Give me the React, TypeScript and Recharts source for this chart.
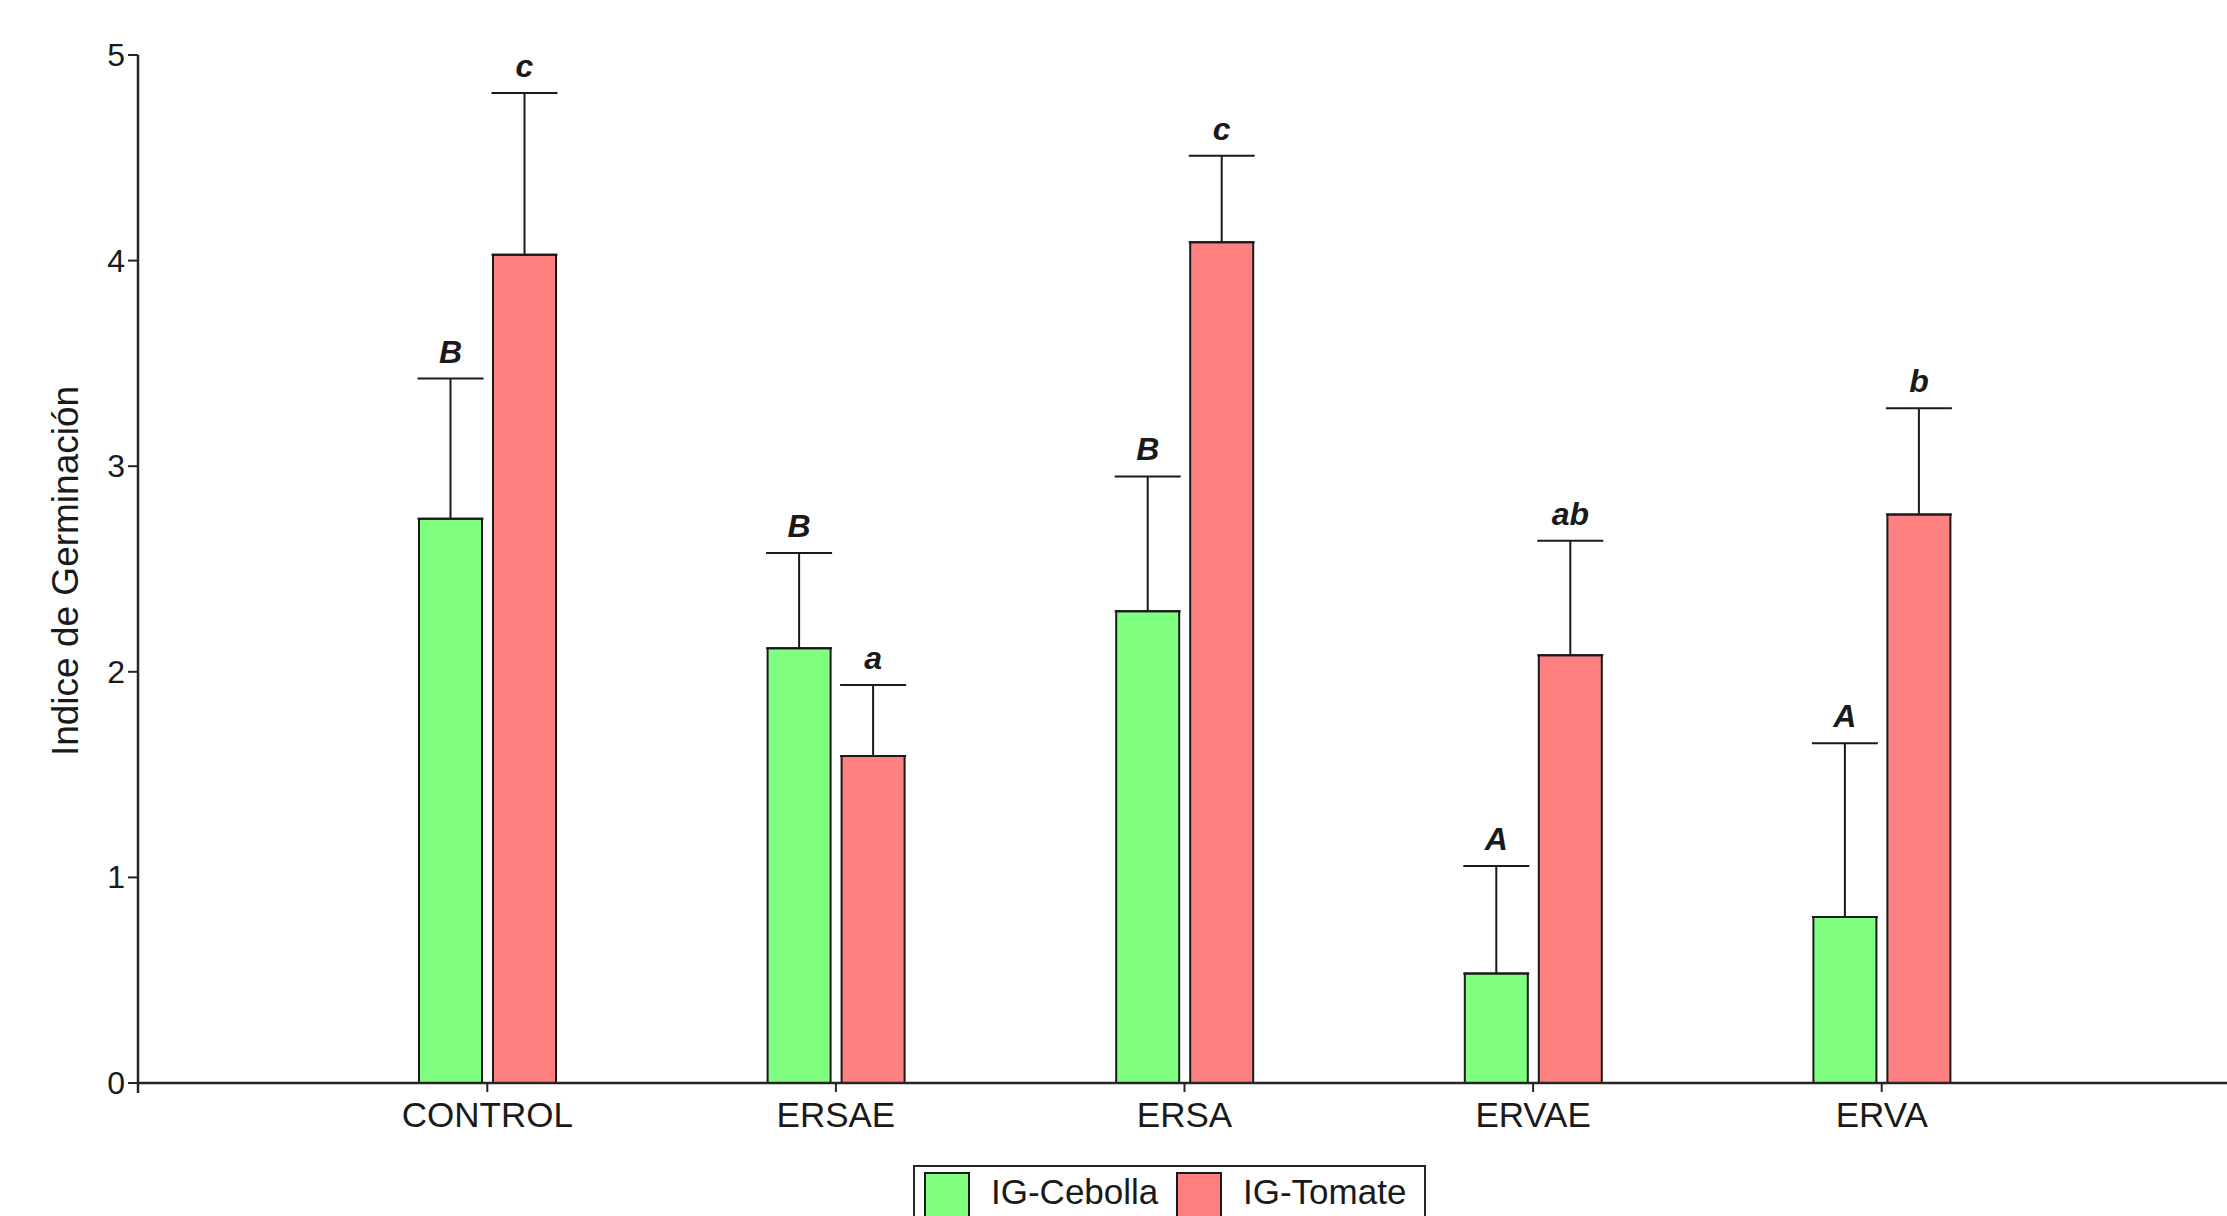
import React from 'react';
import { BarChart, Bar, XAxis, YAxis, ErrorBar, LabelList, Legend } from 'recharts';

const categories = ['CONTROL', 'ERSAE', 'ERSA', 'ERVAE', 'ERVA'];
const cebolla = [2.745, 2.115, 2.295, 0.532, 0.808];
const cebollaErr = [0.681, 0.463, 0.655, 0.524, 0.844];
const tomate = [4.028, 1.591, 4.089, 2.08, 2.765];
const tomateErr = [0.787, 0.345, 0.421, 0.558, 0.517];
const cebollaLetters = ['B', 'B', 'B', 'A', 'A'];
const tomateLetters = ['c', 'a', 'c', 'ab', 'b'];
const yTicks = [0, 1, 2, 3, 4, 5];

const GREEN = '#80ff80';
const RED = '#ff8080';
const INK = '#1a1a1a';
const AXIS = '#262626';
const FONT = '"Liberation Sans", Arial, Helvetica, sans-serif';

const data = categories.map((name, i) => ({
  name,
  cebolla: cebolla[i],
  cebollaErr: [0, cebollaErr[i]],
  tomate: tomate[i],
  tomateErr: [0, tomateErr[i]],
}));

const makeLetterLabel = (values: number[], errs: number[], letters: string[]) => (props: any) => {
  const vb = props.viewBox ?? props;
  const x = vb.x ?? props.x;
  const y = vb.y ?? props.y;
  const width = vb.width ?? props.width;
  const height = Math.abs(vb.height ?? props.height);
  const index = props.index;
  const v = values[index];
  if (!v || x == null) return null;
  const ppu = height / v;
  const capY = y - errs[index] * ppu;
  return (
    <text
      x={x + width / 2}
      y={capY - 16}
      textAnchor="middle"
      fontSize={32}
      fontWeight="bold"
      fontStyle="italic"
      fontFamily={FONT}
      fill={INK}
    >
      {letters[index]}
    </text>
  );
};

const YTick = (props: any) => {
  const { x, y, payload } = props;
  const axisX = x + 13;
  return (
    <g>
      <text x={x} y={y} dy={11} textAnchor="end" fontSize={32} fontFamily={FONT} fill={INK}>
        {payload.value}
      </text>
      {payload.value === 0 ? (
        <line x1={axisX} x2={axisX} y1={y} y2={y + 10} stroke={AXIS} strokeWidth={2.5} />
      ) : null}
    </g>
  );
};

const XTick = (props: any) => {
  const { x, y, payload } = props;
  return (
    <text x={x} y={y} dy={35} textAnchor="middle" fontSize={35} fontFamily={FONT} fill={INK}>
      {payload.value}
    </text>
  );
};

const YLabel = (props: any) => {
  const vb = props.viewBox;
  const cy = vb.y + vb.height / 2;
  return (
    <text
      transform={`translate(${vb.x + 40}, ${cy + 2}) rotate(-90)`}
      textAnchor="middle"
      fontSize={37}
      fontFamily={FONT}
      fill={INK}
    >
      Indice de Germinación
    </text>
  );
};

const entryOffsets = [12, 264];

const LegendContent = (props: any) => {
  const payload = props.payload || [];
  return (
    <svg width={515} height={51} style={{ display: 'block' }}>
      <rect x={1} y={1} width={511} height={80} fill="#ffffff" stroke={AXIS} strokeWidth={2} />
      {payload.map((p: any, i: number) => (
        <g key={p.value} transform={`translate(${entryOffsets[i]}, 0)`}>
          <rect x={0} y={8} width={44} height={50} fill={p.color} stroke={INK} strokeWidth={2} />
          <text x={66} y={39} fontSize={35} fontFamily={FONT} fill={INK}>
            {p.value}
          </text>
        </g>
      ))}
    </svg>
  );
};

export default function App() {
  return (
    <div
      style={{
        position: 'absolute',
        left: 0,
        top: 0,
        width: 2227,
        height: 1216,
        overflow: 'hidden',
        background: '#ffffff',
      }}
    >
      <BarChart
        width={2227}
        height={1216}
        data={data}
        margin={{ top: 55, right: 0, bottom: 73, left: 38 }}
        barSize={63}
        barGap={11}
      >
        <XAxis
          dataKey="name"
          height={60}
          interval={0}
          padding={{ left: 175, right: 171 }}
          tickSize={9}
          tickMargin={0}
          tick={<XTick />}
          axisLine={{ stroke: AXIS, strokeWidth: 2.5 }}
          tickLine={{ stroke: AXIS, strokeWidth: 2 }}
        />
        <YAxis
          domain={[0, 5]}
          ticks={yTicks}
          width={100}
          tickSize={10}
          tickMargin={3}
          tick={<YTick />}
          axisLine={{ stroke: AXIS, strokeWidth: 2.5 }}
          tickLine={{ stroke: AXIS, strokeWidth: 2 }}
          label={<YLabel />}
          allowDataOverflow
        />
        <Legend
          verticalAlign="middle"
          align="center"
          layout="horizontal"
          wrapperStyle={{ left: 913, top: 1165, width: 515, height: 51 }}
          content={<LegendContent />}
        />
        <Bar
          dataKey="cebolla"
          name="IG-Cebolla"
          fill={GREEN}
          stroke={INK}
          strokeWidth={2}
          isAnimationActive={false}
        >
          <ErrorBar dataKey="cebollaErr" width={33} stroke={INK} strokeWidth={2} direction="y" />
          <LabelList dataKey="cebolla" content={makeLetterLabel(cebolla, cebollaErr, cebollaLetters)} />
        </Bar>
        <Bar
          dataKey="tomate"
          name="IG-Tomate"
          fill={RED}
          stroke={INK}
          strokeWidth={2}
          isAnimationActive={false}
        >
          <ErrorBar dataKey="tomateErr" width={33} stroke={INK} strokeWidth={2} direction="y" />
          <LabelList dataKey="tomate" content={makeLetterLabel(tomate, tomateErr, tomateLetters)} />
        </Bar>
      </BarChart>
    </div>
  );
}
